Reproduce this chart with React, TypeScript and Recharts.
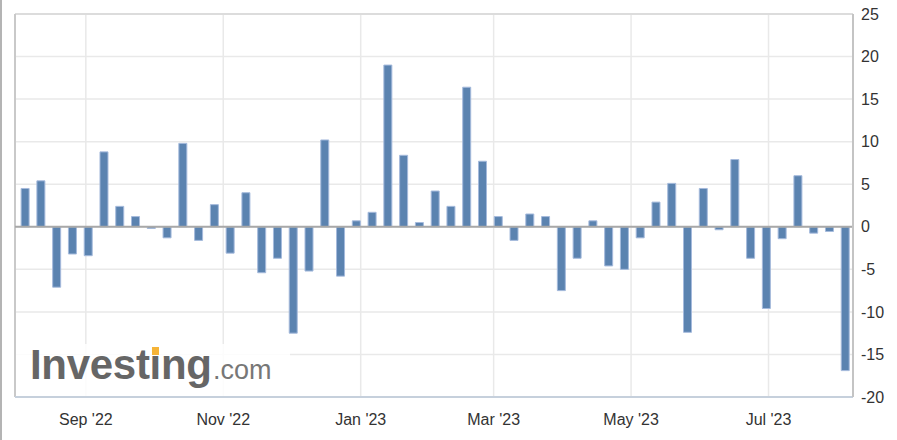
import { Bar, CartesianGrid, ComposedChart, ReferenceLine, XAxis, YAxis } from 'recharts';

const DAY = 24 * 3600 * 1000;

// weekly readings, first week ending 2022-08-05
const firstWeek = '2022-08-05';
const values = [
  4.5, 5.4, -7.1, -3.2, -3.4, 8.8, 2.4, 1.2, -0.2, -1.3, 9.8, -1.6, 2.6, -3.1, 4.0, -5.4, -3.7,
  -12.5, -5.2, 10.2, -5.8, 0.7, 1.7, 19.0, 8.4, 0.5, 4.2, 2.4, 16.4, 7.7, 1.2, -1.6, 1.5, 1.2,
  -7.5, -3.7, 0.7, -4.6, -5.0, -1.3, 2.9, 5.1, -12.4, 4.5, -0.35, 7.9, -3.7, -9.6, -1.4, 6.0,
  -0.75, -0.55, -16.9,
];
const monthTicks = ['2022-09-01', '2022-11-01', '2023-01-01', '2023-03-01', '2023-05-01', '2023-07-01'];
const yTicks = [-20, -15, -10, -5, 0, 5, 10, 15, 20, 25];
const monthNames = ['Jan', 'Feb', 'Mar', 'Apr', 'May', 'Jun', 'Jul', 'Aug', 'Sep', 'Oct', 'Nov', 'Dec'];

const t0 = Date.parse(firstWeek + 'T00:00:00Z');
const data = values.map((v, i) => ({ t: t0 + i * 7 * DAY, v }));
const xMin = t0 - 4.44 * DAY;
const xMax = data[data.length - 1].t + 3.5 * DAY;
const xTicks = monthTicks.map((d) => Date.parse(d + 'T00:00:00Z'));

const fmtMonth = (t: number) => {
  const d = new Date(t);
  return `${monthNames[d.getUTCMonth()]} '${String(d.getUTCFullYear()).slice(2)}`;
};

const font = '"Liberation Sans", Arial, sans-serif';

export default function App() {
  return (
    <div style={{ position: 'absolute', left: 0, top: 0, width: 897, height: 440, background: '#fff', fontFamily: font }}>
      <div style={{ position: 'absolute', left: 0, top: 0, width: 2, height: 440, background: '#b4b4b4' }} />
      <ComposedChart width={897} height={440} data={data} margin={{ top: 14, right: 0, bottom: 0, left: 15 }}>
        <CartesianGrid stroke="#e9e9e9" strokeWidth={1.5} />
        <XAxis
          dataKey="t"
          type="number"
          scale="time"
          domain={[xMin, xMax]}
          ticks={xTicks}
          tickFormatter={fmtMonth}
          height={43}
          axisLine={{ stroke: '#c6d0dc', strokeWidth: 2 }}
          tickLine={false}
          tickMargin={11}
          tick={{ fill: '#333', fontSize: 16, fontFamily: font }}
        />
        <YAxis
          orientation="right"
          domain={[-20, 25]}
          ticks={yTicks}
          width={44}
          axisLine={{ stroke: '#c4c4c4', strokeWidth: 2 }}
          tickLine={false}
          tickMargin={2}
          tick={{ fill: '#333', fontSize: 16, fontFamily: font, textAnchor: 'start' }}
        />
        <ReferenceLine y={25} stroke="#dcdcdc" strokeWidth={2} />
        <ReferenceLine x={xMin} stroke="#c9c9c9" strokeWidth={2} />
        <ReferenceLine y={0} stroke="#a8a8a8" strokeWidth={2} />
        <Bar dataKey="v" barSize={8} fill="#5b83b0" stroke="#a5badc" strokeWidth={1} isAnimationActive={false} />
      </ComposedChart>
      <svg width={897} height={440} style={{ position: 'absolute', left: 0, top: 0, pointerEvents: 'none' }}>
        <rect x={16} y={344} width={274} height={52} fill="#fff" opacity={0.85} />
        <text x={30} y={379} fontSize={42} fontWeight="bold" fill="#666" fontFamily={font} letterSpacing={-0.3}>
          Investing
        </text>
        <text x={213} y={379} fontSize={27} fill="#777" fontFamily={font}>
          .com
        </text>
        <rect x={152} y={347} width={7} height={8} fill="#f6b437" />
      </svg>
    </div>
  );
}
